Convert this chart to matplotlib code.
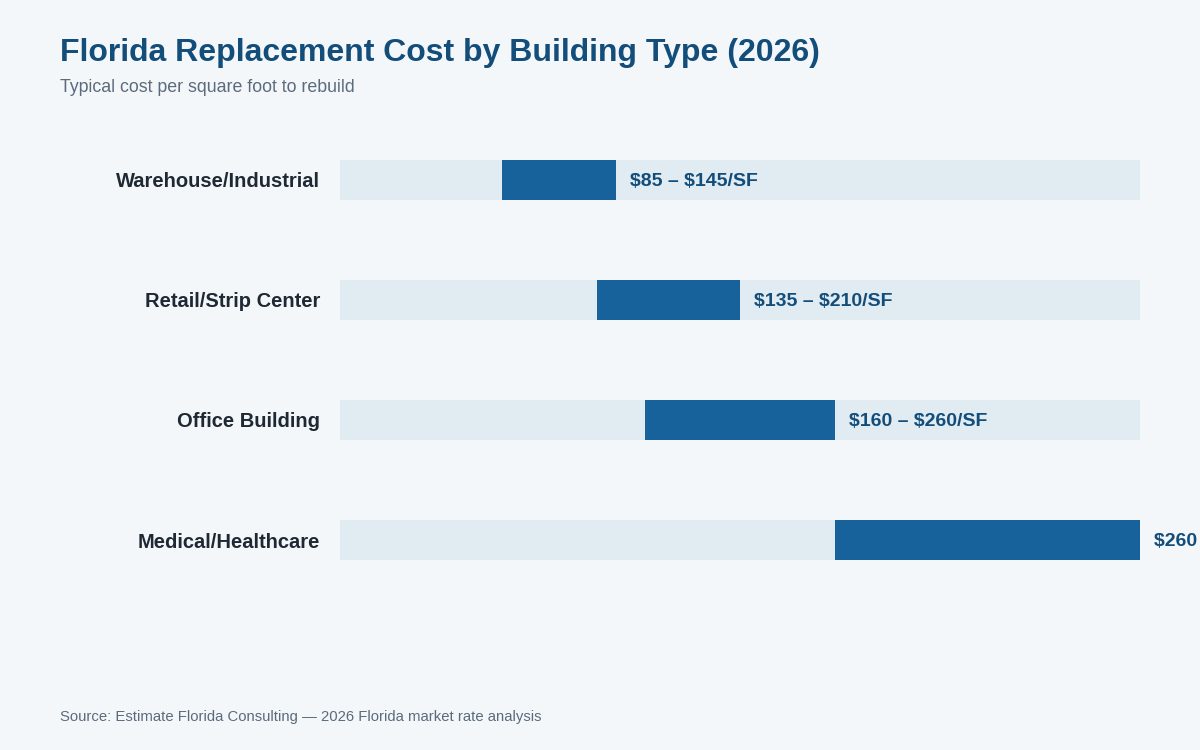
import matplotlib.pyplot as plt

# ---------------------------------------------------------
# Data
# ---------------------------------------------------------
building_types = ['Warehouse/Industrial', 'Retail/Strip Center',
                  'Office Building', 'Medical/Healthcare']
cost_low = [85, 135, 160, 260]
cost_high = [145, 210, 260, 420]
scale_max = 420

bg_color = '#f4f7fa'
track_color = '#e1ebf2'
bar_color = '#17629a'
title_color = '#134d7a'
value_color = '#134d7a'
label_color = '#1f2933'
muted_color = '#5b6b7c'

plt.rcParams['font.family'] = ['Liberation Sans', 'DejaVu Sans']
plt.rcParams['text.parse_math'] = False

fig = plt.figure(figsize=(12, 7.5), dpi=100, facecolor=bg_color)
ax = fig.add_axes([340 / 1200, 150 / 750, 800 / 1200, 480 / 750])
ax.set_facecolor(bg_color)

rows = range(len(building_types))
ax.barh(rows, [scale_max] * len(building_types), height=1 / 3,
        color=track_color, zorder=1)
widths = [h - l for l, h in zip(cost_low, cost_high)]
ax.barh(rows, widths, left=cost_low, height=1 / 3, color=bar_color, zorder=2)

ax.set_xlim(0, scale_max)
ax.set_ylim(len(building_types) - 0.5, -0.5)
ax.axis('off')

for i, (name, lo, hi) in enumerate(zip(building_types, cost_low, cost_high)):
    ax.text(-20 * scale_max / 800, i, name, ha='right', va='center_baseline',
            fontsize=14.5, fontweight='bold', color=label_color)
    # label of the last row runs off the right edge, as in the original
    ax.annotate(f'${lo} – ${hi}/SF', xy=(hi, i), xytext=(10, 0),
                textcoords='offset points', ha='left', va='center_baseline',
                fontsize=14, fontweight='bold', color=value_color,
                annotation_clip=False)

fig.text(60 / 1200, 1 - 50 / 750, 'Florida Replacement Cost by Building Type (2026)',
         ha='left', va='center_baseline', fontsize=23, fontweight='bold', color=title_color)
fig.text(60 / 1200, 1 - 86 / 750, 'Typical cost per square foot to rebuild',
         ha='left', va='center_baseline', fontsize=12.8, color=muted_color)
fig.text(60 / 1200, 1 - 716 / 750,
         'Source: Estimate Florida Consulting — 2026 Florida market rate analysis',
         ha='left', va='center_baseline', fontsize=10.7, color=muted_color)

fig.savefig('out.png', dpi=100, facecolor=bg_color)
